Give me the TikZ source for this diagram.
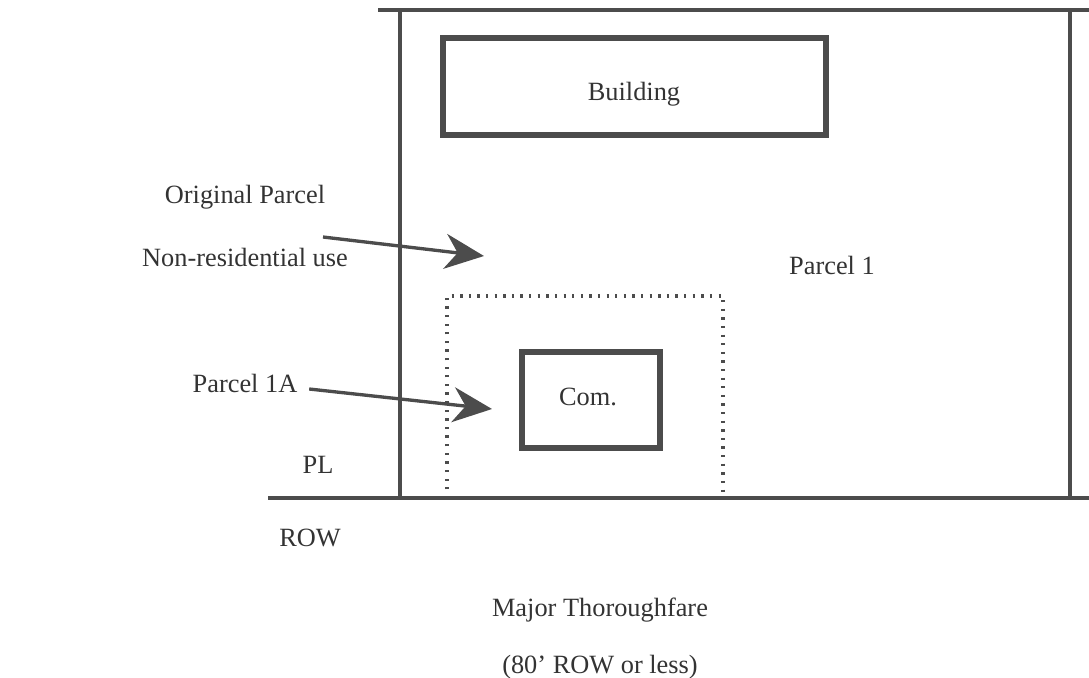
\documentclass[tikz,border=0pt]{standalone}
\usepackage{fontspec}
\setmainfont{Liberation Serif}
\usetikzlibrary{arrows.meta}

\begin{document}
\begin{tikzpicture}[
    x=0.02cm, y=-0.02cm,
    font=\fontsize{15}{18}\selectfont,
    every node/.style={inner sep=2pt, text=black!80},
    lotline/.style={draw=black!70, line width=1.9pt},
    bldg/.style={draw=black!70, line width=3pt},
    splitline/.style={draw=black!70, line width=1.8pt, dash pattern=on 1.3pt off 3.6pt},
    pointer/.style={draw=black!70, line width=1.9pt,
        -{Stealth[length=0.78cm, width=0.7cm, inset=0.25cm]}},
]
\useasboundingbox (0,0) rectangle (1089,677);

% ---- x-coordinates ----
\def\xPL{400}     % left property line
\def\xPR{1070}    % right property line
\def\yTop{10}     % rear lot line
\def\yRow{498}    % right-of-way line

% ---- lot lines ----
\coordinate (topL) at (378,\yTop);
\coordinate (topR) at (1089,\yTop);
\coordinate (rowL) at (268,\yRow);
\coordinate (rowR) at (1089,\yRow);
\draw[lotline] (topL) -- (topR);
\draw[lotline] (rowL) -- (rowR);
\draw[lotline] (\xPL,\yTop) -- (\xPL,\yRow);
\draw[lotline] (\xPR,\yTop) -- (\xPR,\yRow);

% ---- building ----
\draw[bldg] (443,38) rectangle (826,135);
\node (building) at (634,94) {Building};

% ---- parcel 1A (dotted) and commercial pad ----
\draw[splitline] (447,\yRow) -- (447,296) -- (723,296) -- (723,\yRow);
\draw[bldg] (522,352) rectangle (660,448);
\node (com) at (588,397) {Com.};

% ---- labels ----
\node (orig)   at (245,197) {Original Parcel};
\node (nonres) at (245,257) {Non-residential use};
\node (parcel) at (832,265) {Parcel 1};
\node (par1a)  at (245,383) {Parcel 1A};
\node (pl)     at (318,465) {PL};
\node (row)    at (310,538) {ROW};
\node (major)  at (600,610) {Major Thoroughfare};
\node (less)   at (600,667) {(80' ROW or less)};

% ---- arrows ----
\coordinate (tipA) at (484,256);
\coordinate (tipB) at (492,409);
\draw[pointer] (323,237) -- (tipA);
\draw[pointer] (par1a.east) ++(8,6) -- (tipB);

\end{tikzpicture}
\end{document}
